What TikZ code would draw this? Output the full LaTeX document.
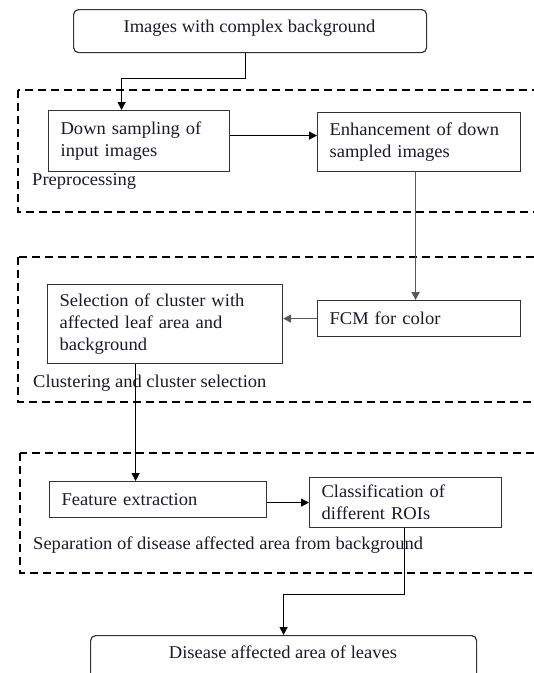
\documentclass[tikz,border=0pt]{standalone}
\usepackage{fontspec}
\setmainfont{Liberation Serif}[FakeStretch=1.03]
\usetikzlibrary{arrows.meta}
\definecolor{edge}{HTML}{333333}
\definecolor{ink}{HTML}{1A1A2A}
\tikzset{
  procbox/.style={draw=edge, line width=1.2pt, anchor=north west, inner xsep=12pt, inner ysep=0pt,
    align=left, text=ink, font=\fontsize{18}{22}\selectfont},
  termbox/.style={draw=edge, line width=1.2pt, rounded corners=5pt, anchor=north west, inner sep=0pt},
  group/.style={draw=black, line width=2pt, dash pattern=on 8pt off 5pt},
  grouplabel/.style={anchor=west, inner sep=0pt, text=ink, font=\fontsize{18}{22}\selectfont},
  conn/.style={draw=black, line width=1.2pt, -{Triangle[length=8pt,width=8pt]}},
  gconn/.style={draw=black!65, line width=1.6pt, -{Triangle[length=8pt,width=8pt]}, >={Triangle}},
  termtext/.style={inner sep=0pt, text=ink, font=\fontsize{18}{22}\selectfont}
}
\begin{document}
\begin{tikzpicture}[x=1pt,y=-1pt]
\useasboundingbox (0,0) rectangle (534,673);
\clip (0,0) rectangle (534,673);
\fill[white] (0,0) rectangle (534,673);

% group frames
\draw[group] (18,90) rectangle (560,212);
\draw[group] (18,257) rectangle (560,402);
\draw[group] (20,453) rectangle (560,573);

% terminal boxes
\node[termbox, minimum width=353pt, minimum height=43pt] (top) at (73,9) {};
\node[termtext] (toptext) at (249.5,28) {Images with complex background};
\node[termbox, minimum width=386pt, minimum height=70pt] (fin) at (90,635) {};
\node[termtext] (fintext) at (283,652) {Disease affected area of leaves};

% process boxes
\node[procbox, text width=157pt, minimum height=61pt] (ds) at (48,110) {Down sampling of\\input images};
\node[procbox, text width=179pt, minimum height=59pt] (enh) at (317,112) {Enhancement of down\\sampled images};
\node[procbox, text width=211pt, minimum height=79pt] (sel) at (47,284) {Selection of cluster with\\affected leaf area and\\background};
\node[procbox, text width=179pt, minimum height=36pt] (fcm) at (317,300) {FCM for color};
\node[procbox, text width=193pt, minimum height=36pt] (feat) at (49,481) {Feature extraction};
\node[procbox, text width=168pt, minimum height=50pt] (cls) at (309,477) {Classification of\\different ROIs};

% group labels
\node[grouplabel] (l1) at (32,181) {Preprocessing};
\node[grouplabel] (l2) at (33,383) {Clustering and cluster selection};
\node[grouplabel] (l3) at (33,545) {Separation of disease affected area from background};

% connectors
\draw[conn] ([xshift=-4.5pt]top.south) -- ++(0,25) -| ([xshift=-17.5pt]ds.north);
\draw[conn] ([yshift=5.5pt]ds.east) -- ([yshift=5.5pt]ds.east -| enh.west);
\draw[gconn] ([xshift=-3.5pt]enh.south) -- ([xshift=-3.5pt]fcm.north);
\draw[gconn] (fcm.west) -- (fcm.west -| sel.east);
\draw[conn] ([xshift=-29.5pt]sel.south) -- ([xshift=-29.5pt]sel.south |- feat.north);
\draw[conn] ([yshift=-3pt]feat.east) -- ([yshift=-3pt]feat.east -| cls.west);
\draw[conn] ([xshift=-1pt]cls.south) -- ++(0,66) -| (fin.north);
\end{tikzpicture}
\end{document}
